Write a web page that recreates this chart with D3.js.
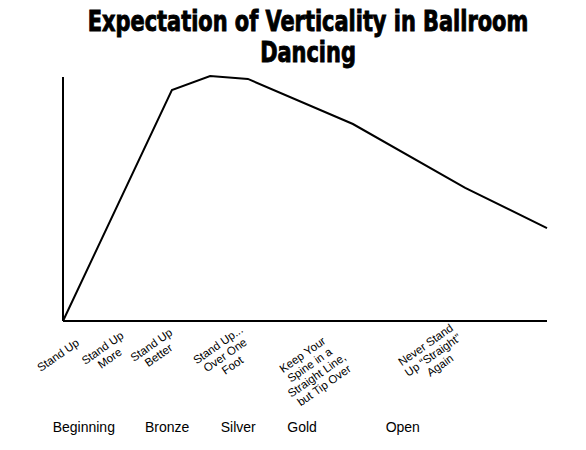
<!DOCTYPE html><html><head><meta charset="utf-8">
<script src="https://cdn.jsdelivr.net/npm/d3@7"></script>
<style>body{margin:0;background:#fff}</style></head><body><svg id="c" width="586" height="450"></svg>
<script>
const lineX = [0, 22.5, 30.4, 38.2, 59.9, 83.1, 100];
const lineY = [0, 94.3, 100, 98.8, 80.4, 54.3, 37.9];
const tickLabels = [["Stand Up"],["Stand Up","More"],["Stand Up","Better"],["Stand Up...","Over One","Foot"],["Keep Your","Spine in a","Straight Line,","but Tip Over"],["Never Stand","Up \u201cStraight\u201d","Again"]];
const tickPos = [-1, 8.9, 19, 33.5, 51.7, 76.4];
const tickYOff = [34, 32, 29, 34, 49, 34];
const stages = ["Beginning","Bronze","Silver","Gold","Open"];
const stagePos = [4.3, 21.5, 36.2, 49.4, 70.2];
const svg = d3.select("#c");
const x = d3.scaleLinear().domain([0,100]).range([63,547]);
const y = d3.scaleLinear().domain([0,100]).range([321,76]);
const t = svg.append("text").attr("transform","translate(308,0) scale(0.83,1)").attr("text-anchor","middle").attr("font-family","'DejaVu Sans Condensed'").attr("font-weight","bold").attr("font-size",28).attr("stroke","#000").attr("stroke-width",0.9).attr("fill","#000");
t.append("tspan").attr("x",0).attr("y",31).text("Expectation of Verticality in Ballroom");
t.append("tspan").attr("x",0).attr("y",62).text("Dancing");
svg.append("line").attr("x1",x(0)).attr("x2",x(0)).attr("y1",77).attr("y2",y(0)).attr("stroke","#000").attr("stroke-width",2);
svg.append("line").attr("x1",x(0)).attr("x2",x(100)).attr("y1",y(0)).attr("y2",y(0)).attr("stroke","#000").attr("stroke-width",2);
svg.append("path").datum(lineX.map((v,i)=>[v,lineY[i]])).attr("d",d3.line().x(d=>x(d[0])).y(d=>y(d[1]))).attr("fill","none").attr("stroke","#000").attr("stroke-width",2);
tickLabels.forEach((lines,i)=>{
  const g = svg.append("g").attr("transform",`translate(${x(tickPos[i])},${y(0)+tickYOff[i]}) rotate(-35)`);
  const n = lines.length;
  lines.forEach((s,j)=>g.append("text").attr("text-anchor","middle").attr("font-family","'Liberation Sans'").attr("font-size",11.5).attr("y",(j-(n-1)/2)*12.5+4).text(s));
});
stages.forEach((s,i)=>svg.append("text").attr("x",x(stagePos[i])).attr("y",432).attr("text-anchor","middle").attr("font-family","'Liberation Sans'").attr("font-size",14).text(s));
</script></body></html>
